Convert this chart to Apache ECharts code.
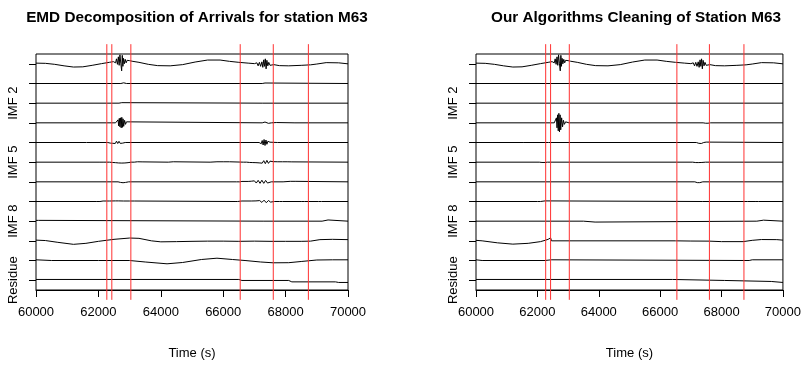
<!DOCTYPE html>
<html>
<head>
<meta charset="utf-8">
<script src="https://cdn.jsdelivr.net/npm/echarts@6/dist/echarts.min.js"></script>
<style>
html,body{margin:0;padding:0;background:#fff;}
#chart{width:804px;height:365px;}
</style>
</head>
<body>
<div id="chart"></div>
<script>
// ---------------- data ----------------
const titles = ["EMD Decomposition of Arrivals for station M63", "Our Algorithms Cleaning of Station M63"];
const xLabel = "Time (s)";
const xMin = 60000, xMax = 70000, xStep = 2000;
const redLines = [62270, 62430, 63040, 66545, 67605, 68730];
const rowLabels = {2: "IMF 2", 5: "IMF 5", 8: "IMF 8", 11: "Residue"};

// trace amplitudes ([time, amplitude]) ; amplitude in 1/20 of trace spacing
const signal = [
 [60000,0.7],[60300,0.5],[60600,-0.5],[60900,-2],[61200,-3.2],[61500,-3],[61800,-1.5],[62100,0.2],[62350,1.5],[62480,2.2],
 [62520,3.5],[62550,1],[62580,5],[62610,-0.5],[62640,7],[62665,-1.5],[62690,9],[62720,0],[62745,-7],[62765,8.5],[62785,-2.5],[62805,5.5],[62830,0],[62860,4.5],[62890,1],[62920,3.5],[62960,2],[63000,3.2],[63080,2.6],
 [63300,1.5],[63600,-0.5],[63900,-1.8],[64300,-2],[64700,-0.8],[65100,1.8],[65500,3.8],[65900,3.8],[66200,2.5],[66500,1.5],[66800,0.7],[67000,0.2],
 [67040,-1],[67080,1],[67120,-2],[67160,1.5],[67200,-2.5],[67240,2],[67270,-3.5],[67300,4],[67325,-2.5],[67350,5],[67375,-5],[67400,3.5],[67430,-2],[67460,1.5],[67500,-1.5],[67550,0.5],[67620,-0.8],
 [67800,-1.8],[68100,-2],[68500,-1.5],[68800,-1],[69000,-0.2],[69300,1.2],[69700,1],[70000,0]
];
const emdImf1 = [[60000,0],[62720,0],[62750,0.7],[62780,-0.4],[62810,0.7],[62840,-0.4],[62870,0.5],[62900,0],[67250,0],[67280,0.5],[67310,-0.4],[67340,0.5],[67370,0],[70000,0]];
const emdImf2 = [[60000,0],[62660,0],[62690,0.5],[62720,-0.5],[62750,0.5],[62780,0],[67250,0],[67280,0.4],[67310,-0.4],[67340,0],[70000,0]];
const emdImf3 = [[60000,0],[62550,0],[62580,1.5],[62600,-1.5],[62630,3],[62650,-3],[62670,4.5],[62690,-4],[62710,5],[62730,-5],[62750,5.5],[62770,-4.5],[62790,4],[62810,-3.5],[62840,2.5],[62870,-1.5],[62900,1],[62930,-0.5],[62960,0],
 [67250,0],[67280,0.8],[67310,-0.8],[67340,0.8],[67370,-0.8],[67400,0.6],[67450,-0.5],[67500,0.5],[67550,0],[67700,0.3],[67750,0],[68300,0],[68320,0.8],[68340,0],[70000,0]];
const emdImf4 = [[60000,0],[61620,0],[61640,0.6],[61660,0],[62300,0],[62340,0.8],[62380,-0.6],[62420,1],[62460,-0.8],[62500,1.2],[62540,-1],[62580,1.3],[62620,-1],[62660,1.2],[62700,-0.9],[62740,0.8],[62780,-0.6],[62820,0.5],[62860,0],
 [67150,0],[67190,1],[67220,-1.2],[67250,2],[67280,-2.5],[67310,3],[67340,-3],[67370,2.5],[67400,-1.8],[67430,1.2],[67460,-0.8],[67500,0.3],[67540,0],[67740,0],[67760,0.6],[67780,0],[70000,0]];
const emdImf5 = [[60000,0],[62050,0],[62100,0.4],[62150,0],[62200,0.4],[62250,0],[62300,0.4],[62350,0],[62400,0.5],[62450,-0.3],[62500,0.6],[62550,-0.5],[62600,0.8],[62650,-0.8],[62700,1],[62750,-0.9],[62800,1],[62850,-0.8],[62900,0.8],[62950,-0.5],[63000,0.5],[63050,0],[63100,0.4],[63150,0],[63250,0.4],[63300,0],[63400,0.3],[63450,0],
 [64240,0],[64270,0.4],[64300,0],[64400,0.4],[64440,0],
 [65580,0],[65600,0.4],[65620,0],[65800,0.4],[65820,0],[66000,0.4],[66020,0],[66200,0.4],[66220,0],
 [66650,0],[66700,0.4],[66750,0],[66800,0.5],[66850,-0.3],[66900,0.5],[66950,-0.4],[67000,0.6],[67050,-0.5],[67100,0.7],[67150,-0.7],[67200,1],[67250,-1],[67300,1.5],[67350,-1.5],[67400,1.8],[67450,-1.2],[67500,1],[67550,-0.6],[67600,0.5],[67650,0],[67750,0.4],[67800,0],[67900,0.4],[67950,0],[68050,0.4],[68100,0],[68200,0.3],[68250,0],[70000,0]];
const emdImf6 = [[60000,0],[62630,0],[62670,0.6],[62710,-0.6],[62750,0.9],[62790,-0.9],[62830,0.8],[62870,-0.6],[62920,0.5],[62970,0],
 [66430,0],[66480,0.5],[66530,0],[66600,0.4],[66650,0],[66800,0.4],[66850,-0.4],[66900,0.6],[66950,-0.6],[67000,1],[67060,-1.2],[67120,1.5],[67180,-1.5],[67240,1.6],[67300,-1.5],[67360,1.4],[67420,-1.2],[67480,0.8],[67540,0],
 [67920,0],[67950,0.5],[67980,0],[68150,0.5],[68180,0],[68330,0.5],[68360,0],[70000,0]];
const emdImf7 = [[60000,0],[61950,0],[62000,0.5],[62050,0],[62150,0.5],[62200,0],[62350,0.5],[62400,0],[62550,0.6],[62600,-0.3],[62650,0.6],[62700,0],[62800,0.5],[62850,0],[63000,0.5],[63050,0],[63150,0.5],[63200,0],
 [66380,0],[66420,0.6],[66460,0],[66600,0.5],[66640,0],[66900,0.5],[66950,-0.3],[67050,0.6],[67100,-0.5],[67170,0.9],[67240,-0.9],[67310,1.3],[67380,-1.2],[67450,1],[67520,-0.6],[67580,0.4],[67640,0],[67800,0],[67850,0.5],[67900,0],[68500,0],[68550,0.4],[68600,0],[69050,0],[69100,0.5],[69150,0],[70000,0]];
const emdImf8 = [[60000,0.8],[60080,0.8],[60100,0],[67280,0],[67300,-0.8],[67330,0],[69170,0],[69190,1.2],[69360,1.2],[69380,0],[70000,0]];
const emdImf9 = [[60000,0.7],[60300,0.3],[60700,-1.5],[61200,-3.5],[61600,-2.5],[62000,-0.5],[62500,1.5],[63000,2.8],[63300,2.5],[63700,0],[64000,-1],[64500,-0.8],[65000,-0.5],[65500,-0.3],[66000,-0.3],[66500,-0.5],[67000,-0.3],[67500,-0.5],[68000,-0.5],[68500,-0.5],[68800,-0.3],[69100,1.2],[69500,1.5],[70000,1.2]];
const emdImf10 = [[60000,0.7],[60500,0],[62000,0],[63000,0],[63500,-1.5],[64200,-3.3],[64700,-2],[65300,1],[65800,2.3],[66300,1],[66700,0],[67200,-1.5],[67600,-2.3],[68100,-2.2],[68500,-1],[69000,0.5],[69500,0.7],[70000,0.7]];
const emdResidue = [[60000,0.7],[66500,0.7],[66600,-0.3],[68100,-0.3],[68200,-1.7],[69600,-1.7],[69700,-2.3],[70000,-2.3]];

const cleanImf1 = [[60000,0],[70000,0]];
const cleanImf2 = [[60000,0],[70000,0]];
const cleanImf3 = [[60000,0],[62550,0],[62580,2],[62600,-2],[62620,5],[62640,-5],[62660,8],[62680,-8],[62700,9.5],[62720,-9],[62740,8],[62760,-7],[62790,5],[62820,-4],[62850,2.5],[62880,-1.5],[62920,1],[62970,-0.5],[63030,0],
 [67400,0],[67440,0.4],[67480,-0.4],[67520,0.4],[67560,-0.4],[67600,0.3],[67640,0],[70000,0]];
const cleanImf4 = [[60000,0],[61560,0],[61580,0.5],[61600,0],[62280,0],[62300,1],[62320,-0.5],[62340,1],[62360,0],[67180,0],[67220,0.8],[67260,-0.8],[67300,1],[67340,-1],[67380,0.8],[67420,0],[67500,0.4],[67540,0],[70000,0]];
const cleanImf5 = [[60000,0],[62060,0],[62100,0.5],[62150,-0.3],[62200,0.5],[62250,-0.3],[62300,0.4],[62330,0],[67060,0],[67110,0.5],[67160,-0.4],[67210,0.6],[67260,-0.4],[67310,0.5],[67360,-0.3],[67420,0.4],[67480,0],[70000,0]];
const cleanImf6 = [[60000,0],[62270,0],[62290,0.7],[62310,0],[67130,0],[67170,0.8],[67210,-0.8],[67250,0.9],[67290,-0.8],[67330,0.6],[67390,0],[70000,0]];
const cleanImf7 = [[60000,0],[62000,0],[62050,0.5],[62100,0],[62250,0.6],[62300,0],[67370,0],[67400,0.6],[67430,0],[68760,0],[68800,0.5],[68840,0],[69120,0],[69160,0.5],[69200,0],[70000,0]];
const cleanImf8 = [[60000,0],[60010,0.8],[60050,0],[63500,0],[63530,-0.9],[63880,-0.9],[63910,0],[69150,0],[69180,1],[69370,1],[69400,0],[70000,0]];
const cleanImf9 = [[60000,0.5],[60200,0],[60700,-2],[61200,-3.3],[61700,-2.5],[62100,-0.8],[62250,0.5],[62350,1.5],[62430,3],[62460,0],[66500,0],[67000,-0.2],[67600,-0.3],[68000,-0.8],[68700,-0.8],[69000,0.5],[69300,1.3],[69800,1.2],[70000,0.7]];
const cleanImf10 = [[60000,0.7],[60200,0],[62250,0],[62300,0.7],[62450,0.7],[62480,0],[68900,0],[69000,0.7],[70000,0.7]];
const cleanResidue = [[60000,0.7],[66400,0.7],[66450,-0.3],[68100,-0.3],[68150,-1.3],[69620,-1.3],[69680,-2.3],[70000,-2.3]];

const leftTraces = [signal, emdImf1, emdImf2, emdImf3, emdImf4, emdImf5, emdImf6, emdImf7, emdImf8, emdImf9, emdImf10, emdResidue];
const rightTraces = [signal, cleanImf1, cleanImf2, cleanImf3, cleanImf4, cleanImf5, cleanImf6, cleanImf7, cleanImf8, cleanImf9, cleanImf10, cleanResidue];

// ---------------- chart ----------------
const NROW = 12;
const AMP = 1 / 19.67; // amplitude unit -> row spacing
const FONT = "'Liberation Sans', Arial, sans-serif";
const chart = echarts.init(document.getElementById('chart'), null, {renderer: 'canvas'});

const grids = [
  {left: 36, right: 456, top: 54, bottom: 75},
  {left: 476, right: 18, top: 54, bottom: 75}
];
const rowVals = [];
for (let k = 0; k < NROW; k++) rowVals.push(NROW - 1 - k);
const labelVals = Object.keys(rowLabels).map(k => NROW - 1 - Number(k));
const labelMap = {};
Object.keys(rowLabels).forEach(k => { labelMap[NROW - 1 - Number(k)] = rowLabels[k]; });

const xAxes = [], yAxes = [], series = [], titleArr = [];
[leftTraces, rightTraces].forEach((traces, gi) => {
  xAxes.push({
    gridIndex: gi, type: 'value', min: xMin, max: xMax, interval: xStep,
    name: xLabel, nameLocation: 'middle', nameGap: 57,
    nameTextStyle: {fontFamily: FONT, fontSize: 13, color: '#000'},
    axisLine: {show: true, onZero: false, lineStyle: {color: '#000', width: 1}},
    axisTick: {show: true, length: 7, lineStyle: {color: '#000'}},
    axisLabel: {fontFamily: FONT, fontSize: 13, color: '#000', margin: 16, formatter: v => String(v)},
    splitLine: {show: false}
  });
  yAxes.push({
    gridIndex: gi, type: 'value', min: -0.5, max: NROW - 0.5,
    axisLine: {show: false},
    axisTick: {show: true, length: 7, customValues: rowVals, lineStyle: {color: '#000'}},
    axisLabel: {show: true, customValues: labelVals, rotate: 90, margin: 16,
      fontFamily: FONT, fontSize: 13, color: '#000',
      formatter: v => labelMap[v] || ''},
    splitLine: {show: false}
  });
  titleArr.push({
    text: titles[gi], left: gi === 0 ? 192 : 631, top: 5, textAlign: 'center',
    textStyle: {fontFamily: FONT, fontSize: 15.3, fontWeight: 'bold', color: '#000'}
  });
  traces.forEach((tr, k) => {
    const base = NROW - 1 - k;
    series.push({
      type: 'line', xAxisIndex: gi, yAxisIndex: gi,
      data: tr.map(p => [p[0], base + p[1] * AMP]),
      showSymbol: false, symbol: 'none', silent: true,
      lineStyle: {color: '#000', width: 1}, z: 2
    });
  });
  redLines.forEach(t => {
    series.push({
      type: 'line', xAxisIndex: gi, yAxisIndex: gi, clip: false,
      data: [[t, -1.0], [t, NROW + 0.0]],
      showSymbol: false, symbol: 'none', silent: true,
      lineStyle: {color: '#ff3030', width: 1}, z: 3
    });
  });
});

chart.setOption({
  animation: false,
  backgroundColor: '#fff',
  title: titleArr,
  grid: grids.map(g => Object.assign({show: true, borderColor: '#000', borderWidth: 1, backgroundColor: 'transparent'}, g)),
  xAxis: xAxes,
  yAxis: yAxes,
  series: series
});
</script>
</body>
</html>
